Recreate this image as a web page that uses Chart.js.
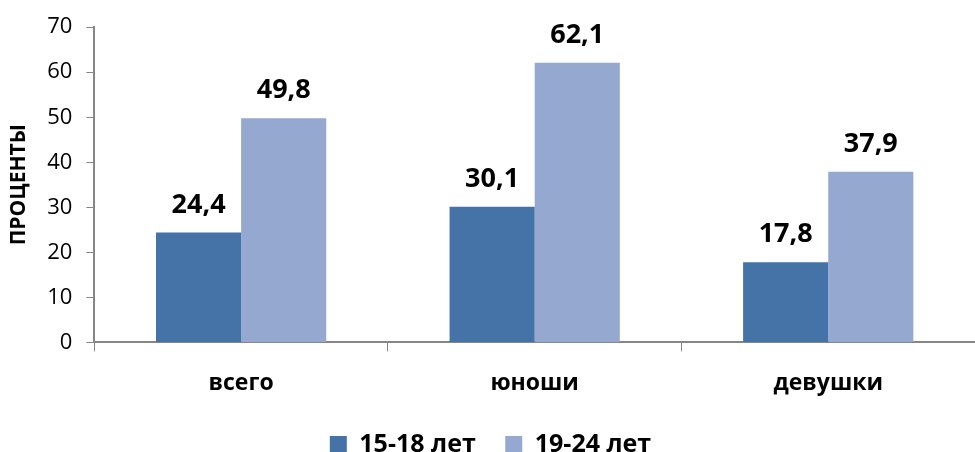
<!DOCTYPE html>
<html>
<head>
<meta charset="utf-8">
<script src="https://cdn.jsdelivr.net/npm/chart.js@4/dist/chart.umd.min.js"></script>
<style>
  html, body { margin: 0; padding: 0; background: #fff; overflow: hidden; }
  #wrap { width: 975px; height: 467px; }
</style>
</head>
<body>
<div id="wrap"><canvas id="chart"></canvas></div>
<script>
const categories = ['всего', 'юноши', 'девушки'];
const seriesNames = ['15-18 лет', '19-24 лет'];
const values1518 = [24.4, 30.1, 17.8];
const values1924 = [49.8, 62.1, 37.9];
const yTicks = [0, 10, 20, 30, 40, 50, 60, 70];

const FONT = "'Open Sans', 'Liberation Sans', sans-serif";
const AXIS = '#868686';

// value above each bar, comma as decimal mark
const valueLabels = {
  id: 'valueLabels',
  afterDatasetsDraw(chart) {
    const ctx = chart.ctx;
    ctx.save();
    ctx.font = 'bold 27px ' + FONT;
    ctx.fillStyle = '#000';
    ctx.textAlign = 'center';
    ctx.textBaseline = 'alphabetic';
    chart.data.datasets.forEach((ds, i) => {
      chart.getDatasetMeta(i).data.forEach((bar, j) => {
        const txt = ds.data[j].toFixed(1).replace('.', ',');
        ctx.fillText(txt, bar.x, bar.y - 20);
      });
    });
    ctx.restore();
  }
};

new Chart(document.getElementById('chart'), {
  type: 'bar',
  data: {
    labels: categories,
    datasets: [
      { label: seriesNames[0], data: values1518, backgroundColor: '#4573A7' },
      { label: seriesNames[1], data: values1924, backgroundColor: '#95A9D0' }
    ]
  },
  options: {
    responsive: true,
    maintainAspectRatio: false,
    animation: false,
    layout: { padding: { top: 14, right: 0, left: 6, bottom: 0 } },
    datasets: { bar: { categoryPercentage: 0.58, barPercentage: 1.0 } },
    plugins: {
      legend: {
        position: 'bottom',
        labels: {
          font: { family: FONT, size: 25, weight: 'bold' },
          color: '#000',
          boxWidth: 17,
          boxHeight: 17,
          padding: 17,
          // a little extra room after the first entry, like the original
          generateLabels(chart) {
            const items = Chart.defaults.plugins.legend.labels.generateLabels(chart);
            items[0].text += '\u2002';
            return items;
          }
        }
      },
      tooltip: { enabled: false }
    },
    scales: {
      x: {
        grid: { display: true, drawOnChartArea: false, drawTicks: true, tickLength: 9, color: AXIS, offset: true },
        border: { color: AXIS, width: 2 },
        ticks: { font: { family: FONT, size: 23, weight: 'bold' }, color: '#000', padding: 18 }
      },
      y: {
        min: 0,
        max: 70,
        afterBuildTicks(axis) { axis.ticks = yTicks.map(v => ({ value: v })); },
        grid: { display: true, drawOnChartArea: false, drawTicks: true, tickLength: 8, color: AXIS },
        border: { color: AXIS, width: 2 },
        ticks: { font: { family: FONT, size: 22 }, color: '#000', padding: 14 },
        title: {
          display: true,
          text: 'ПРОЦЕНТЫ',
          font: { family: FONT, size: 21, weight: 'bold' },
          color: '#000',
          padding: { top: 0, bottom: 2 }
        }
      }
    }
  },
  plugins: [valueLabels]
});
</script>
</body>
</html>
